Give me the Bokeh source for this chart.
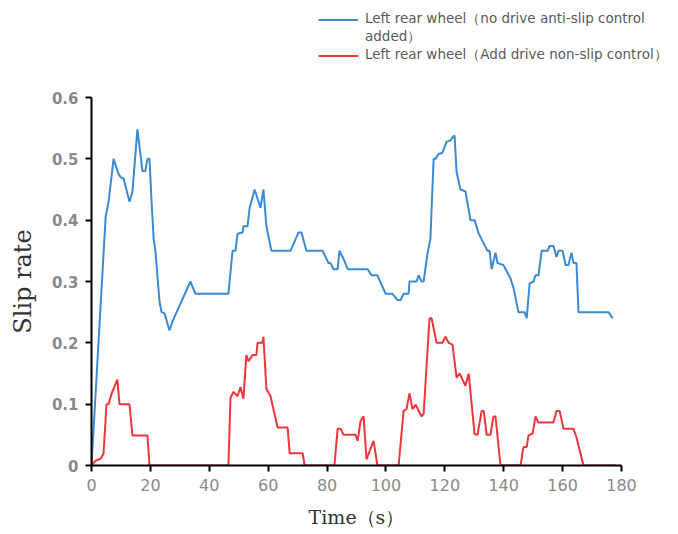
from bokeh.plotting import figure
from bokeh.models import Range1d, FixedTicker, Legend, LegendItem
from bokeh.embed import file_html
from bokeh.resources import INLINE

# Time (s) and slip rate for the left rear wheel without drive anti-slip control
t_blue = [0, 4.8, 5.8, 7.5, 9.2, 9.9, 10.9, 12.9, 13.9, 15.6, 17.3, 18.3, 19.0, 19.7,
          20.4, 21.1, 21.7, 23.1, 23.8, 24.8, 26.5, 27.5, 33.6, 35.3, 46.5, 47.9, 48.9,
          49.6, 51.3, 51.6, 53.0, 53.7, 55.4, 57.4, 58.4, 59.4, 61.1, 67.6, 70.3, 71.3,
          73.0, 78.5, 80.5, 81.2, 82.2, 83.6, 84.2, 85.6, 87.0, 93.8, 95.1, 97.1, 99.9,
          102.2, 103.9, 105.0, 106.0, 107.7, 108.0, 110.4, 111.1, 112.1, 112.8, 114.1,
          115.1, 116.2, 116.8, 117.9, 119.2, 120.6, 121.9, 122.6, 123.3, 124.0, 125.3,
          127.0, 128.7, 130.1, 131.5, 134.5, 135.2, 135.9, 137.2, 137.9, 139.9, 142.3,
          143.3, 145.0, 147.1, 147.8, 148.8, 150.1, 150.8, 151.8, 152.9, 154.9, 155.6,
          156.9, 157.9, 158.6, 160.0, 161.0, 162.0, 163.0, 163.7, 164.7, 165.4, 175.6, 177.0]
slip_blue = [0, 0.405, 0.43, 0.50, 0.475, 0.47, 0.468, 0.43, 0.446, 0.548, 0.48, 0.48, 0.50, 0.50,
             0.43, 0.37, 0.35, 0.267, 0.25, 0.248, 0.22, 0.235, 0.30, 0.28, 0.28, 0.35, 0.35,
             0.378, 0.38, 0.39, 0.39, 0.42, 0.45, 0.42, 0.45, 0.39, 0.35, 0.35, 0.38, 0.38,
             0.35, 0.35, 0.33, 0.33, 0.32, 0.32, 0.35, 0.337, 0.32, 0.32, 0.31, 0.31, 0.28,
             0.28, 0.27, 0.27, 0.28, 0.28, 0.30, 0.30, 0.31, 0.30, 0.30, 0.345,
             0.37, 0.50, 0.50, 0.508, 0.51, 0.528, 0.53, 0.535, 0.538, 0.478, 0.45,
             0.447, 0.40, 0.40, 0.378, 0.35, 0.35, 0.32, 0.347, 0.33, 0.327, 0.305,
             0.29, 0.25, 0.25, 0.24, 0.297, 0.30, 0.31, 0.31, 0.35, 0.35, 0.358,
             0.358, 0.34, 0.35, 0.35, 0.327, 0.327, 0.347, 0.33, 0.33, 0.25, 0.25, 0.24]

# Time (s) and slip rate for the left rear wheel with drive anti-slip control
t_red = [0, 1.4, 3.1, 4.1, 5.1, 5.8, 6.8, 8.8, 9.5, 12.9, 13.9, 19.0, 19.7, 46.5, 47.2,
         48.2, 49.6, 50.6, 51.6, 52.6, 53.3, 54.7, 56.0, 56.4, 58.1, 58.4, 59.4, 60.8,
         63.2, 66.6, 67.3, 71.7, 72.4, 82.5, 83.6, 84.6, 85.6, 89.7, 90.4, 91.4, 92.4,
         93.4, 95.8, 97.1, 104.3, 106.0, 107.0, 108.0, 109.0, 110.1, 112.1, 112.8, 114.8,
         115.5, 117.2, 119.2, 120.2, 121.3, 122.6, 124.0, 125.0, 127.0, 128.1, 130.1,
         131.1, 132.5, 133.2, 134.2, 135.5, 136.5, 137.2, 138.9, 145.7, 146.7, 147.8,
         148.4, 149.8, 150.8, 151.8, 156.9, 157.9, 159.0, 160.3, 163.7, 164.7, 167.1, 178.0]
slip_red = [0, 0.008, 0.011, 0.02, 0.10, 0.10, 0.117, 0.14, 0.10, 0.10, 0.049, 0.049, 0, 0, 0.11,
            0.12, 0.113, 0.128, 0.109, 0.18, 0.17, 0.18, 0.18, 0.20, 0.20, 0.21, 0.125, 0.113,
            0.062, 0.062, 0.02, 0.02, 0, 0, 0.06, 0.06, 0.05, 0.05, 0.04, 0.073, 0.08,
            0.01, 0.04, 0, 0, 0.089, 0.092, 0.118, 0.092, 0.099, 0.08, 0.084, 0.24,
            0.24, 0.20, 0.20, 0.21, 0.20, 0.197, 0.143, 0.15, 0.13, 0.15, 0.051,
            0.05, 0.089, 0.089, 0.05, 0.05, 0.08, 0.08, 0, 0, 0.03, 0.03,
            0.049, 0.052, 0.08, 0.07, 0.07, 0.089, 0.089, 0.06, 0.06, 0.046, 0, 0]

x_ticks = [0, 20, 40, 60, 80, 100, 120, 140, 160, 180]
y_ticks = [0, 0.1, 0.2, 0.3, 0.4, 0.5, 0.6]
y_tick_labels = ["0", "0.1", "0.2", "0.3", "0.4", "0.5", "0.6"]

# The first legend entry wraps onto a second row
label_blue = "Left rear wheel\uff08no drive anti-slip control"
label_blue_cont = "added\uff09"
label_red = "Left rear wheel\uff08Add drive non-slip control\uff09"

BLUE = "#3a8ad4"
RED = "#f0353c"

# ---- main chart ----
p = figure(width=678, height=447, output_backend="svg", toolbar_location=None,
           x_range=Range1d(0, 180), y_range=Range1d(0, 0.6),
           min_border_left=91, min_border_right=57, min_border_top=10, min_border_bottom=69)
p.outline_line_color = None
p.xgrid.visible = False
p.ygrid.visible = False
p.background_fill_color = "white"
p.border_fill_color = "white"

p.line(t_blue, slip_blue, line_color=BLUE, line_width=2)
p.line(t_red, slip_red, line_color=RED, line_width=2)

for ax in (p.xaxis[0], p.yaxis[0]):
    ax.axis_line_color = "black"
    ax.axis_line_width = 2
    ax.major_tick_line_color = "black"
    ax.major_tick_line_width = 2
    ax.major_tick_in = 0
    ax.major_tick_out = 6
    ax.minor_tick_line_color = None
    ax.major_label_text_color = "#8a8a8a"
    ax.major_label_text_font = "DejaVu Sans"
    ax.axis_label_text_font = "DejaVu Serif"
    ax.axis_label_text_font_style = "normal"
    ax.axis_label_text_color = "#333333"

p.xaxis.ticker = FixedTicker(ticks=x_ticks)
p.yaxis.ticker = FixedTicker(ticks=y_ticks)
p.yaxis.major_label_overrides = {v: s for v, s in zip(y_ticks, y_tick_labels)}
p.yaxis.major_label_text_font_style = "bold"
p.yaxis.major_label_text_font_size = "15px"
p.xaxis.major_label_text_font_size = "16px"
p.xaxis.major_label_standoff = 7
p.yaxis.major_label_standoff = 7

p.xaxis.axis_label = "Time\uff08s\uff09"
p.xaxis.axis_label_text_font_size = "19px"
p.xaxis.axis_label_standoff = 12
p.yaxis.axis_label = "Slip rate"
p.yaxis.axis_label_text_font_size = "24px"
p.yaxis.axis_label_standoff = 12

# ---- legend strip above the chart ----
# same series, drawn outside the strip's visible range so only the legend shows
lg = figure(width=678, height=87, output_backend="svg", toolbar_location=None,
            x_range=Range1d(-20, -10), y_range=Range1d(0, 0.6),
            x_axis_location=None, y_axis_location=None,
            min_border=0)
lg.grid.visible = False
lg.outline_line_color = None
lg.background_fill_color = "white"
lg.border_fill_color = "white"
lb = lg.line(t_blue, slip_blue, line_color=BLUE, line_width=2)
lr = lg.line(t_red, slip_red, line_color=RED, line_width=2)
lc = lg.line(t_blue, slip_blue, line_alpha=0)

legend = Legend(items=[LegendItem(label=label_blue, renderers=[lb]),
                       LegendItem(label=label_blue_cont, renderers=[lc]),
                       LegendItem(label=label_red, renderers=[lr])],
                location=(314, 19))
legend.border_line_alpha = 0
legend.background_fill_alpha = 0
legend.glyph_width = 40
legend.glyph_height = 15
legend.label_height = 15
legend.label_text_font = "DejaVu Sans"
legend.label_text_font_size = "13.5px"
legend.label_text_color = "#5a5a5a"
legend.spacing = 0
legend.padding = 4
legend.margin = 0
legend.label_standoff = 7
lg.add_layout(legend)

# two separate roots stacked on the page: legend strip, then the chart
open("out.html", "w").write(file_html([lg, p], INLINE))
